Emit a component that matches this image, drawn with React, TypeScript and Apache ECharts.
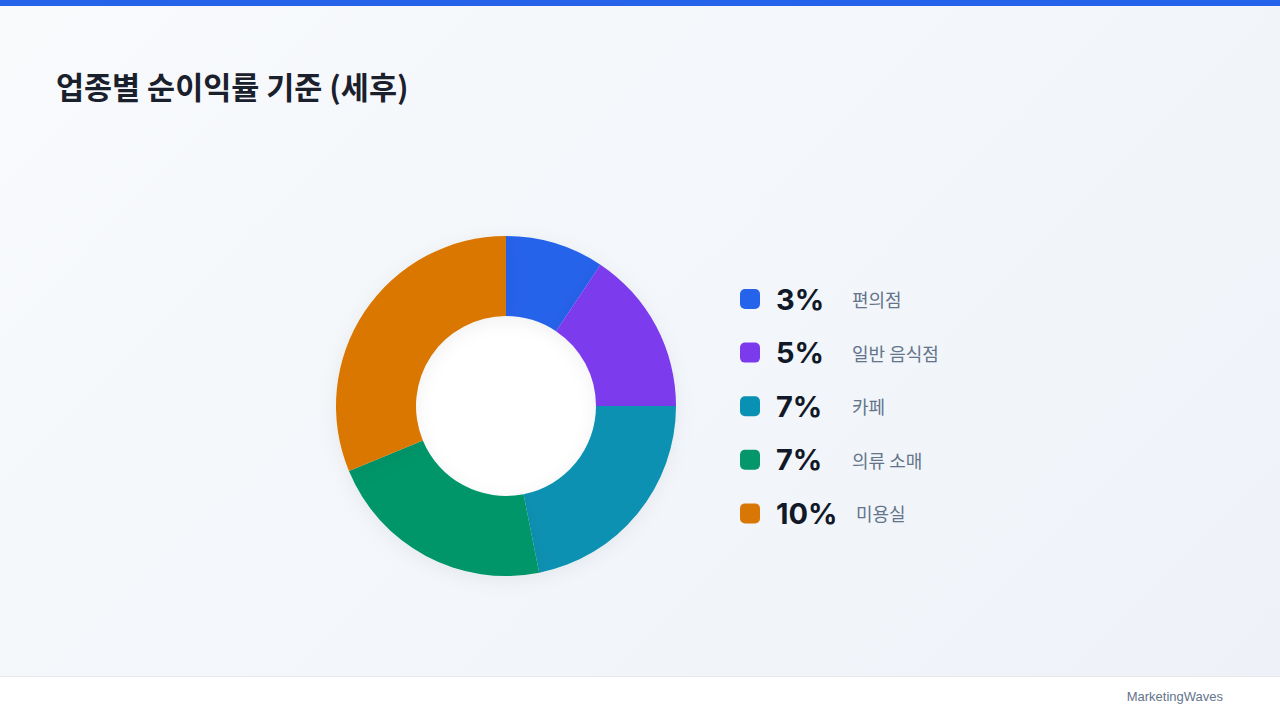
import { useEffect, useRef } from 'react';
import * as echarts from 'echarts';

const categories = ['편의점', '일반 음식점', '카페', '의류 소매', '미용실'];
const margins = [3, 5, 7, 7, 10];
const colors = ['#2563eb', '#7c3aed', '#0891b2', '#059669', '#d97706'];

export default function App() {
  const ref = useRef<HTMLDivElement>(null);

  useEffect(() => {
    document.body.style.margin = '0';
    if (!ref.current) return;
    const chart = echarts.init(ref.current, null, { renderer: 'svg' });
    chart.setOption({
      animation: false,
      title: {
        text: '업종별 순이익률 기준 (세후)',
        left: 56,
        top: 71,
        padding: 0,
        textStyle: {
          fontFamily: '"Noto Sans CJK KR", sans-serif',
          fontSize: 30.5,
          fontWeight: 'bold',
          color: '#1a202c'
        }
      },
      legend: {
        orient: 'vertical',
        left: 740,
        top: 284.5,
        padding: 0,
        itemWidth: 20,
        itemHeight: 20,
        itemGap: 24.6,
        icon: 'roundRect',
        selectedMode: false,
        data: categories,
        formatter: (name: string) => {
          const i = categories.indexOf(name);
          const v = margins[i] + '%';
          return v.length > 2 ? `{w|${v}}{n|${name}}` : `{v|${v}}{n|${name}}`;
        },
        textStyle: {
          rich: {
            v: {
              fontFamily: 'Inter, sans-serif',
              fontSize: 29,
              fontWeight: 'bold',
              color: '#111827',
              lineHeight: 34,
              width: 76,
              padding: [0, 0, 0, 11]
            },
            w: {
              fontFamily: 'Inter, sans-serif',
              fontSize: 29,
              fontWeight: 'bold',
              color: '#111827',
              lineHeight: 34,
              width: 80,
              padding: [0, 0, 0, 11]
            },
            n: {
              fontFamily: '"Noto Sans CJK KR", sans-serif',
              fontSize: 18,
              color: '#64748b',
              lineHeight: 34
            }
          }
        }
      },
      graphic: [
        { type: 'rect', left: 0, top: 0, shape: { width: 1280, height: 6 }, style: { fill: '#2563eb' } },
        { type: 'rect', left: 0, top: 676, shape: { width: 1280, height: 44 }, style: { fill: '#ffffff' } },
        { type: 'rect', left: 0, top: 676, shape: { width: 1280, height: 1 }, style: { fill: '#e5e7eb' } },
        {
          type: 'text',
          right: 57,
          top: 690,
          style: {
            text: 'MarketingWaves',
            fontFamily: 'Helvetica, Arial, sans-serif',
            fontSize: 13,
            fill: '#64748b'
          }
        }
      ],
      series: [
        {
          type: 'pie',
          silent: true,
          center: [506, 406],
          radius: [0, 90],
          z: 1,
          label: { show: false },
          itemStyle: { color: '#ffffff' },
          data: [{ value: 1, name: '' }]
        },
        {
          type: 'pie',
          center: [506, 406],
          radius: [90, 170],
          startAngle: 90,
          clockwise: true,
          z: 2,
          label: { show: false },
          labelLine: { show: false },
          emphasis: { disabled: true },
          itemStyle: {
            shadowBlur: 18,
            shadowOffsetY: 4,
            shadowColor: 'rgba(15,23,42,0.06)'
          },
          data: categories.map((c, i) => ({
            name: c,
            value: margins[i],
            itemStyle: { color: colors[i] }
          }))
        }
      ]
    });
    return () => {
      chart.dispose();
    };
  }, []);

  return (
    <div
      ref={ref}
      style={{
        width: 1280,
        height: 720,
        background: 'linear-gradient(135deg, #f8fafc 0%, #eef2f8 100%)'
      }}
    />
  );
}
